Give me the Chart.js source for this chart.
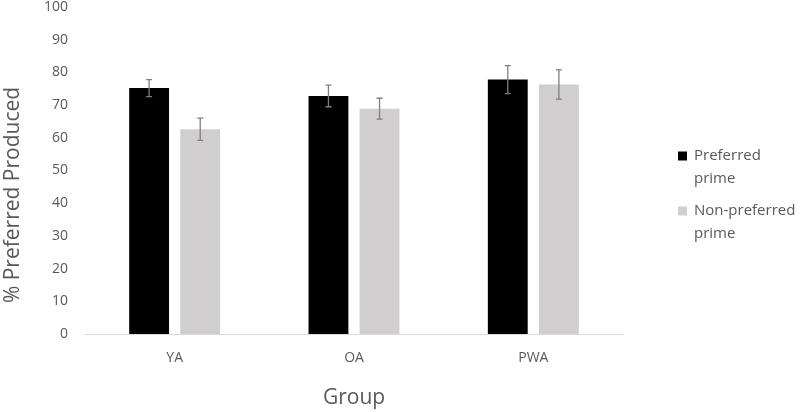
<!DOCTYPE html>
<html lang="en">
<head>
    <meta charset="UTF-8">
    <title>% Preferred Produced by Group</title>
    <script src="https://cdn.jsdelivr.net/npm/chart.js@4"></script>
    <style>
        html, body { margin: 0; padding: 0; background: #fff; }
        #wrap { width: 800px; height: 412px; }
    </style>
</head>
<body>
    <div id="wrap"><canvas id="chart"></canvas></div>
    <script>
        // Data
        const groups = ['YA', 'OA', 'PWA'];
        const preferred = [75.2, 72.8, 77.8];
        const preferredErr = [2.6, 3.3, 4.3];
        const nonPreferred = [62.6, 68.9, 76.3];
        const nonPreferredErr = [3.4, 3.2, 4.5];
        const yTicks = [0, 10, 20, 30, 40, 50, 60, 70, 80, 90, 100];

        const textColor = '#595959';
        const fontFamily = '"Open Sans", "Noto Sans", sans-serif';

        // Error bars drawn from each bar's own position
        const errorBars = {
            id: 'errorBars',
            afterDatasetsDraw(chart) {
                const ctx = chart.ctx;
                const y = chart.scales.y;
                ctx.save();
                ctx.strokeStyle = '#7f7f7f';
                ctx.lineWidth = 1.3;
                chart.data.datasets.forEach((ds, i) => {
                    chart.getDatasetMeta(i).data.forEach((bar, j) => {
                        const v = ds.data[j];
                        const e = ds.errors[j];
                        const top = y.getPixelForValue(v + e);
                        const bot = y.getPixelForValue(v - e);
                        ctx.beginPath();
                        ctx.moveTo(bar.x, top);
                        ctx.lineTo(bar.x, bot);
                        ctx.moveTo(bar.x - 3, top);
                        ctx.lineTo(bar.x + 3, top);
                        ctx.moveTo(bar.x - 3, bot);
                        ctx.lineTo(bar.x + 3, bot);
                        ctx.stroke();
                    });
                });
                ctx.restore();
            }
        };

        // Legend on the right with wrapped labels, plus the y title
        const sideText = {
            id: 'sideText',
            afterDraw(chart) {
                const ctx = chart.ctx;
                ctx.save();
                ctx.fillStyle = textColor;
                ctx.textBaseline = 'middle';
                ctx.font = '15px ' + fontFamily;
                let ly = 156;
                chart.data.datasets.forEach(ds => {
                    ctx.fillStyle = ds.backgroundColor;
                    ctx.fillRect(678, ly - 4.5, 9, 9);
                    ctx.fillStyle = textColor;
                    ds.legendLines.forEach((line, k) => {
                        ctx.fillText(line, 694, ly + k * 23);
                    });
                    ly += 55;
                });

                ctx.translate(13, 195);
                ctx.rotate(-Math.PI / 2);
                ctx.textAlign = 'center';
                ctx.font = '21px ' + fontFamily;
                ctx.fillText('% Preferred Produced', 0, 0);
                ctx.restore();
            }
        };

        new Chart(document.getElementById('chart'), {
            type: 'bar',
            data: {
                labels: groups,
                datasets: [{
                    label: 'Preferred prime',
                    legendLines: ['Preferred', 'prime'],
                    data: preferred,
                    errors: preferredErr,
                    backgroundColor: '#000000',
                    categoryPercentage: 0.57,
                    barPercentage: 0.78
                }, {
                    label: 'Non-preferred prime',
                    legendLines: ['Non-preferred', 'prime'],
                    data: nonPreferred,
                    errors: nonPreferredErr,
                    backgroundColor: '#d0cece',
                    categoryPercentage: 0.57,
                    barPercentage: 0.78
                }]
            },
            options: {
                responsive: true,
                maintainAspectRatio: false,
                animation: false,
                layout: { padding: { left: 0, top: 7, right: 177, bottom: 0 } },
                plugins: {
                    legend: { display: false },
                    tooltip: { enabled: false }
                },
                scales: {
                    x: {
                        grid: { display: false, drawTicks: false },
                        border: { color: '#d9d9d9', width: 1 },
                        ticks: { color: textColor, font: { family: fontFamily, size: 14 }, padding: 16 },
                        title: {
                            display: true, text: 'Group', color: textColor,
                            font: { family: fontFamily, size: 21 }, padding: { top: 0, bottom: 1 }
                        },
                        afterFit: s => { s.height = 78; }
                    },
                    y: {
                        min: 0,
                        max: 100,
                        afterBuildTicks: s => { s.ticks = yTicks.map(v => ({ value: v })); },
                        grid: { display: false, drawTicks: false },
                        border: { display: false },
                        ticks: { color: textColor, font: { family: fontFamily, size: 14 }, padding: 17 },
                        afterFit: s => { s.width = 85; s.paddingTop = 0; s.paddingBottom = 0; }
                    }
                }
            },
            plugins: [errorBars, sideText]
        });
    </script>
</body>
</html>
